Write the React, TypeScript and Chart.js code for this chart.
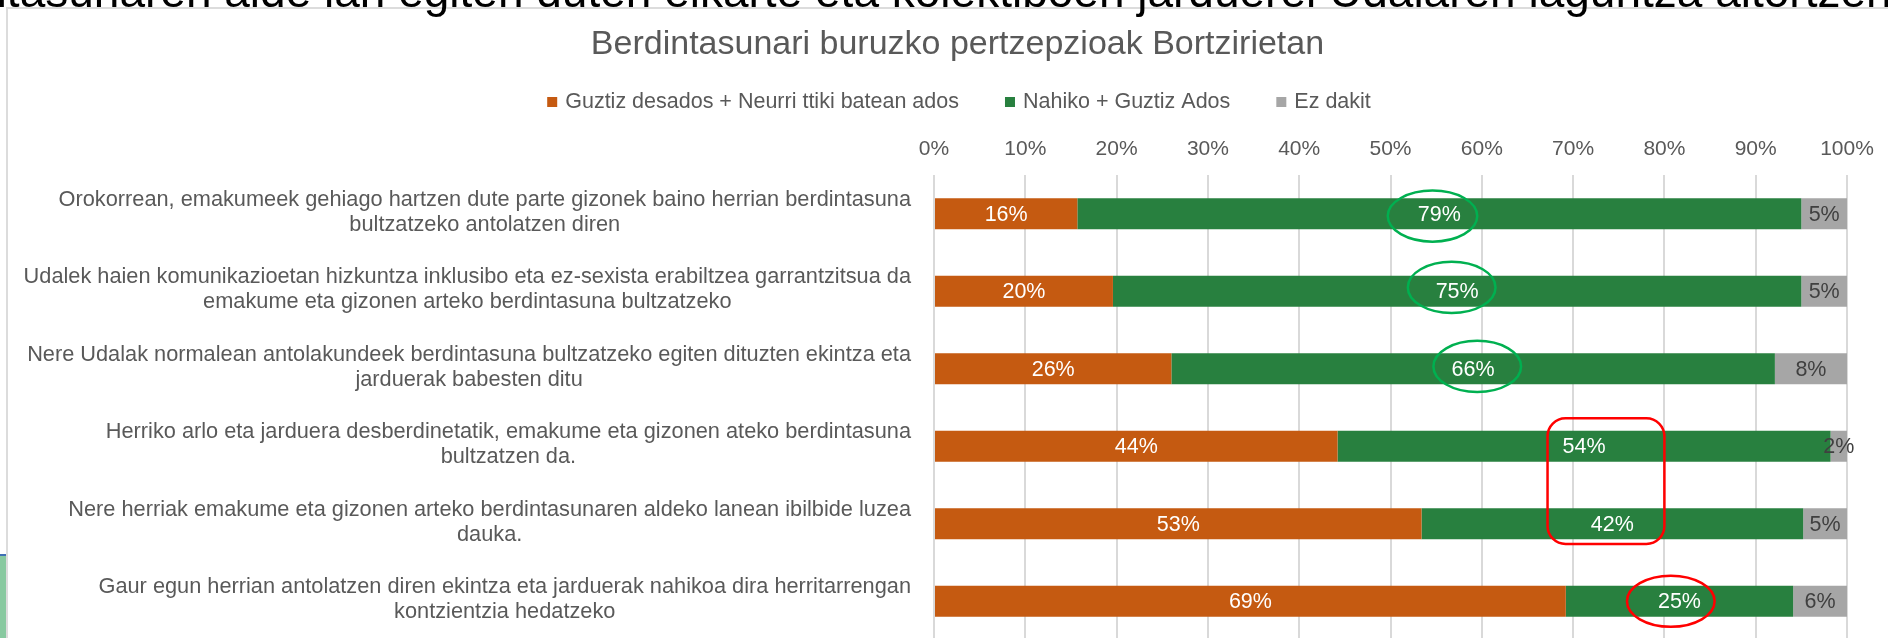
import React, { useEffect, useRef } from 'react';
import { Chart, registerables } from 'chart.js';

Chart.register(...registerables);

const FONT = '"Liberation Sans", Arial, Helvetica, sans-serif';

const headerText =
  'berdintasunaren alde lan egiten duten elkarte eta kolektiboen jarduerei Udalaren laguntza aitortzen';
const titleText = 'Berdintasunari buruzko pertzepzioak Bortzirietan';

const categories: string[][] = [
  ['Orokorrean, emakumeek gehiago hartzen dute parte gizonek baino herrian berdintasuna', 'bultzatzeko antolatzen diren'],
  ['Udalek haien komunikazioetan hizkuntza inklusibo eta ez-sexista erabiltzea garrantzitsua da', 'emakume eta gizonen arteko berdintasuna bultzatzeko'],
  ['Nere Udalak normalean antolakundeek berdintasuna bultzatzeko egiten dituzten ekintza eta', 'jarduerak babesten ditu'],
  ['Herriko arlo eta jarduera desberdinetatik, emakume eta gizonen ateko berdintasuna', 'bultzatzen da.'],
  ['Nere herriak emakume eta gizonen arteko berdintasunaren aldeko lanean ibilbide luzea', 'dauka.'],
  ['Gaur egun herrian antolatzen diren ekintza eta jarduerak nahikoa dira herritarrengan', 'kontzientzia hedatzeko'],
];

const seriesNames = ['Guztiz desados + Neurri ttiki batean ados', 'Nahiko + Guztiz Ados', 'Ez dakit'];
const disagree = [15.7, 19.6, 26.0, 44.2, 53.4, 69.2];
const agree = [79.3, 75.4, 66.1, 54.0, 41.8, 24.9];
const dontKnow = [5.0, 5.0, 7.9, 1.8, 4.8, 5.9];
const seriesColors = ['#C55A11', '#28803F', '#A6A6A6'];
const labelColors = ['#FFFFFF', '#FFFFFF', '#404040'];

const xMin = 0;
const xMax = 100;
const xStep = 10;

// highlight shapes, in data units (x: percent, y: category index)
const ellipseMarks = [
  { x: 54.6, y: 0.03, rx: 4.9, ry: 0.33, color: '#00B050' },
  { x: 56.7, y: 0.95, rx: 4.8, ry: 0.33, color: '#00B050' },
  { x: 59.5, y: 1.97, rx: 4.8, ry: 0.33, color: '#00B050' },
  { x: 80.7, y: 5.0, rx: 4.8, ry: 0.33, color: '#FF0000' },
];
const rectMarks = [{ x0: 67.2, x1: 80.0, y0: 2.64, y1: 4.26, color: '#FF0000' }];

const dataLabelPlugin = {
  id: 'dataLabelPlugin',
  afterDatasetsDraw(chart: any) {
    const ctx = chart.ctx;
    ctx.save();
    ctx.font = `21.5px ${FONT}`;
    ctx.textAlign = 'center';
    ctx.textBaseline = 'middle';
    chart.data.datasets.forEach((ds: any, di: number) => {
      const meta = chart.getDatasetMeta(di);
      meta.data.forEach((bar: any, i: number) => {
        const v = ds.data[i];
        const cx = (bar.x + bar.base) / 2;
        ctx.fillStyle = labelColors[di];
        ctx.fillText(Math.round(v) + '%', cx, bar.y + 1);
      });
    });
    ctx.restore();
  },
};

const marksPlugin = {
  id: 'marksPlugin',
  afterDatasetsDraw(chart: any) {
    const ctx = chart.ctx;
    const xs = chart.scales.x;
    const ys = chart.scales.y;
    ctx.save();
    ctx.lineWidth = 2.5;
    ellipseMarks.forEach((m) => {
      const cx = xs.getPixelForValue(m.x);
      const cy = ys.getPixelForValue(m.y);
      const rx = Math.abs(xs.getPixelForValue(m.x + m.rx) - cx);
      const ry = Math.abs(ys.getPixelForValue(m.y + m.ry) - cy);
      ctx.strokeStyle = m.color;
      ctx.beginPath();
      ctx.ellipse(cx, cy, rx, ry, 0, 0, Math.PI * 2);
      ctx.stroke();
    });
    rectMarks.forEach((m) => {
      const x0 = xs.getPixelForValue(m.x0);
      const x1 = xs.getPixelForValue(m.x1);
      const y0 = ys.getPixelForValue(m.y0);
      const y1 = ys.getPixelForValue(m.y1);
      ctx.strokeStyle = m.color;
      ctx.beginPath();
      (ctx as any).roundRect(x0, y0, x1 - x0, y1 - y0, 18);
      ctx.stroke();
    });
    ctx.restore();
  },
};

const categoryLabelPlugin = {
  id: 'categoryLabelPlugin',
  afterDraw(chart: any) {
    const ctx = chart.ctx;
    const ys = chart.scales.y;
    const right = chart.chartArea.left - 23;
    const lineGap = 25;
    ctx.save();
    ctx.font = `21.75px ${FONT}`;
    ctx.fillStyle = '#595959';
    ctx.textAlign = 'center';
    ctx.textBaseline = 'middle';
    categories.forEach((lines, i) => {
      const cy = ys.getPixelForValue(i) - 1.5;
      const w = Math.max(...lines.map((l) => ctx.measureText(l).width));
      const cx = right - w / 2;
      const startY = cy - ((lines.length - 1) * lineGap) / 2;
      lines.forEach((l, li) => ctx.fillText(l, cx, startY + li * lineGap));
    });
    ctx.restore();
  },
};

const legendPlugin = {
  id: 'legendPlugin',
  afterDraw(chart: any) {
    const ctx = chart.ctx;
    const centerX = 951;
    const y = 93;
    const box = 10;
    const boxGap = 8;
    const itemGap = 46;
    ctx.save();
    ctx.font = `21.5px ${FONT}`;
    ctx.textBaseline = 'middle';
    ctx.textAlign = 'left';
    const widths = seriesNames.map((n) => box + boxGap + ctx.measureText(n).width);
    const total = widths.reduce((a, b) => a + b, 0) + itemGap * (widths.length - 1);
    let x = centerX - total / 2;
    seriesNames.forEach((n, i) => {
      ctx.fillStyle = seriesColors[i];
      ctx.fillRect(x, y - box / 2, box, box);
      ctx.fillStyle = '#595959';
      ctx.fillText(n, x + box + boxGap, y);
      x += widths[i] + itemGap;
    });
    ctx.restore();
  },
};

export default function App() {
  const ref = useRef<HTMLCanvasElement>(null);

  useEffect(() => {
    if (!ref.current) return;
    const chart = new Chart(ref.current, {
      type: 'bar',
      data: {
        labels: categories.map((c) => c.join(' ')),
        datasets: [
          { label: seriesNames[0], data: disagree, backgroundColor: seriesColors[0] },
          { label: seriesNames[1], data: agree, backgroundColor: seriesColors[1] },
          { label: seriesNames[2], data: dontKnow, backgroundColor: seriesColors[2] },
        ].map((d) => ({ ...d, borderWidth: 0, barPercentage: 0.4, categoryPercentage: 1 })),
      },
      options: {
        indexAxis: 'y',
        responsive: false,
        animation: false,
        layout: { padding: { left: 60, right: 41, top: 0, bottom: 0 } },
        plugins: {
          legend: { display: false },
          tooltip: { enabled: false },
          title: {
            display: true,
            text: titleText,
            color: '#595959',
            font: { family: FONT, size: 34, weight: 'normal' },
            padding: { top: 15.6, bottom: 0 },
          },
        },
        scales: {
          x: {
            position: 'top',
            stacked: true,
            min: xMin,
            max: xMax,
            ticks: {
              stepSize: xStep,
              callback: (v: any) => v + '%',
              color: '#595959',
              font: { family: FONT, size: 21 },
              padding: 13.4,
            },
            grid: { color: '#D9D9D9', lineWidth: 2, drawTicks: false },
            border: { display: false },
            afterFit: (s: any) => {
              s.height = 166 - (15.6 + 34 * 1.2);
            },
          },
          y: {
            stacked: true,
            ticks: { display: false },
            grid: { display: false },
            border: { display: false },
            afterFit: (s: any) => {
              s.width = 866;
            },
          },
        },
      } as any,
      plugins: [dataLabelPlugin, marksPlugin, categoryLabelPlugin, legendPlugin],
    });
    return () => chart.destroy();
  }, []);

  return (
    <div style={{ position: 'fixed', left: 0, top: 0, width: 1888, height: 638, overflow: 'hidden', background: '#fff' }}>
      <div
        style={{
          position: 'absolute',
          left: 6,
          top: 7,
          width: 1900,
          height: 700,
          borderTop: '2px solid #DCDCDC',
          borderLeft: '2px solid #DCDCDC',
        }}
      />
      <div
        style={{
          position: 'absolute',
          left: 0,
          top: 554,
          width: 6,
          height: 100,
          background: '#88C9A0',
          borderTop: '2px solid #3F6FB5',
        }}
      />
      <canvas
        ref={ref}
        width={1880}
        height={631}
        style={{ position: 'absolute', left: 8, top: 9, width: 1880, height: 631 }}
      />
      <div
        style={{
          position: 'absolute',
          left: -121,
          top: -32,
          fontFamily: FONT,
          fontSize: 46,
          lineHeight: 1,
          whiteSpace: 'nowrap',
          color: '#000',
        }}
      >
        {headerText}
      </div>
    </div>
  );
}
